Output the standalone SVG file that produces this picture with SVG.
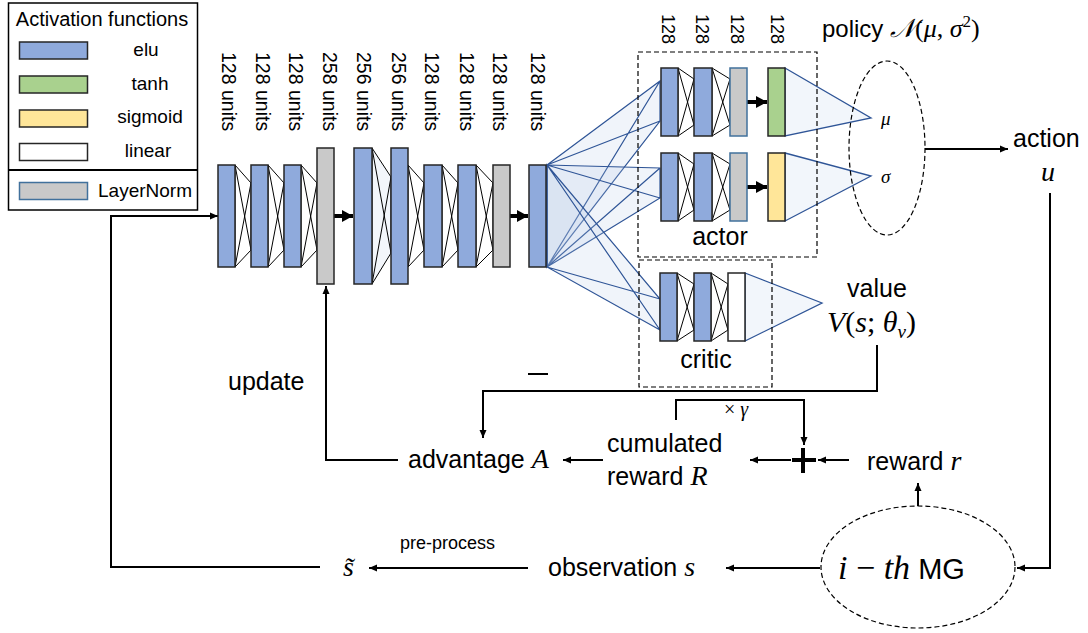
<svg xmlns="http://www.w3.org/2000/svg" width="1088" height="633" viewBox="0 0 1088 633">
  <style>
    .sans { font-family: "Liberation Sans", Arial, sans-serif; fill: #000; }
    .math { font-family: "Liberation Serif", "DejaVu Serif", serif; font-style: italic; fill: #000; }
    .up { font-family: "Liberation Serif", "DejaVu Serif", serif; font-style: normal; }
    .elu { fill: #8FAADC; stroke: #262626; stroke-width: 1.5; }
    .tanh { fill: #A9D18E; stroke: #262626; stroke-width: 1.5; }
    .sig { fill: #FFE699; stroke: #262626; stroke-width: 1.5; }
    .lin { fill: #FFFFFF; stroke: #262626; stroke-width: 1.5; }
    .ln { fill: #C9C9C9; stroke: #262626; stroke-width: 1.5; }
    .lnb { fill: #C9C9C9; stroke: #41719C; stroke-width: 1.5; }
    .xw { fill: #FFFFFF; stroke: #000; stroke-width: 1; }
    .xb { fill: #F3F6FB; stroke: #000; stroke-width: 1; }
    .fan { fill: #B4C7E7; fill-opacity: 0.2; stroke: #2F5597; stroke-width: 1.2; }
    .out { fill: #F2F6FB; stroke: #2F5597; stroke-width: 1.3; }
    .dash { fill: none; stroke: #000; stroke-width: 1.2; stroke-dasharray: 5 3; }
    .wire { fill: none; stroke: #000; stroke-width: 2; }
    .thick { fill: none; stroke: #000; stroke-width: 4; }
  </style>
  <defs>
    <marker id="ah" markerUnits="userSpaceOnUse" markerWidth="9" markerHeight="8" refX="8" refY="4" orient="auto">
      <path d="M0,0.5 L8,4 L0,7.5 z" fill="#000"/>
    </marker>
    <marker id="ahb" markerUnits="userSpaceOnUse" markerWidth="12" markerHeight="12" refX="11" refY="6" orient="auto">
      <path d="M0,0 L11,6 L0,12 z" fill="#000"/>
    </marker>
  </defs>

  <!-- legend -->
  <g id="legend">
    <rect x="8.5" y="3" width="189" height="207" fill="#fff" stroke="#000" stroke-width="1.5"/>
    <line x1="8.5" y1="170" x2="197.5" y2="170" stroke="#000" stroke-width="2"/>
    <text class="sans" x="102" y="26" font-size="20" text-anchor="middle">Activation functions</text>
    <rect class="elu" x="19.5" y="42" width="68" height="17"/>
    <rect class="tanh" x="19.5" y="76" width="68" height="17"/>
    <rect class="sig" x="19.5" y="110" width="68" height="17"/>
    <rect class="lin" x="19.5" y="143.5" width="68" height="17"/>
    <rect class="lnb" x="19.5" y="182.5" width="68" height="17"/>
    <text class="sans" x="146" y="56" font-size="19" text-anchor="middle">elu</text>
    <text class="sans" x="150" y="90" font-size="19" text-anchor="middle">tanh</text>
    <text class="sans" x="150" y="123" font-size="19" text-anchor="middle">sigmoid</text>
    <text class="sans" x="148" y="157" font-size="19" text-anchor="middle">linear</text>
    <text class="sans" x="145" y="197" font-size="19" text-anchor="middle">LayerNorm</text>
  </g>

  <!-- connectors: fully connected wiring, arrows and signal flow -->
  <g id="connectors">
    <!-- dense links inside the shared trunk -->
    <path class="xw" d="M235,165 L251,183 L251,250 L235,267 Z M235,165 L251,250 M235,267 L251,183"/>
    <path class="xw" d="M268,165 L284,183 L284,250 L268,267 Z M268,165 L284,250 M268,267 L284,183"/>
    <path class="xw" d="M301,165 L317,183 L317,250 L301,267 Z M301,165 L317,250 M301,267 L317,183"/>
    <path class="xb" d="M372,148 L391,177 L391,253 L372,284 Z M372,148 L391,253 M372,284 L391,177"/>
    <path class="xw" d="M408,165 L424,183 L424,250 L408,267 Z M408,165 L424,250 M408,267 L424,183"/>
    <path class="xw" d="M442,165 L458,183 L458,250 L442,267 Z M442,165 L458,250 M442,267 L458,183"/>
    <path class="xw" d="M476,165 L493,183 L493,250 L476,267 Z M476,165 L493,250 M476,267 L493,183"/>
    <line class="thick" x1="334" y1="216" x2="353" y2="216" marker-end="url(#ahb)"/>
    <line class="thick" x1="510" y1="216" x2="528" y2="216" marker-end="url(#ahb)"/>

    <!-- trunk output fanned to the heads -->
    <path class="fan" d="M547,165 L660,81 L660,121 L547,267 Z M547,165 L660,121 M547,267 L660,81"/>
    <path class="fan" d="M547,165 L660,168 L660,198 L547,267 Z M547,165 L660,198 M547,267 L660,168"/>
    <path class="fan" d="M547,165 L660,299 L660,330 L547,267 Z M547,165 L660,330 M547,267 L660,299"/>

    <!-- actor head links -->
    <path class="xw" d="M678,68 L694,79 L694,125 L678,136 Z M678,68 L694,125 M678,136 L694,79"/>
    <path class="xw" d="M712,68 L730,79 L730,125 L712,136 Z M712,68 L730,125 M712,136 L730,79"/>
    <path class="xw" d="M678,153 L694,164 L694,210 L678,221 Z M678,153 L694,210 M678,221 L694,164"/>
    <path class="xw" d="M712,153 L730,164 L730,210 L712,221 Z M712,153 L730,210 M712,221 L730,164"/>
    <line class="thick" x1="747" y1="102" x2="767" y2="102" marker-end="url(#ahb)"/>
    <line class="thick" x1="747" y1="187" x2="767" y2="187" marker-end="url(#ahb)"/>
    <path class="out" d="M785,68 L871,118 L785,136 Z"/>
    <path class="out" d="M785,153 L871,176 L785,221 Z"/>

    <!-- critic head links -->
    <path class="xw" d="M677,273 L694,284 L694,330 L677,341 Z M677,273 L694,330 M677,341 L694,284"/>
    <path class="xw" d="M711,273 L728,284 L728,330 L711,341 Z M711,273 L728,330 M711,341 L728,284"/>
    <path class="out" d="M745,273 L822,303 L745,341 Z"/>

    <!-- environment loop -->
    <line class="wire" x1="925" y1="149" x2="1008" y2="149" marker-end="url(#ah)"/>
    <path class="wire" d="M1050,193 V568 H1017" marker-end="url(#ah)"/>
    <line class="wire" x1="820" y1="568" x2="726" y2="568" marker-end="url(#ah)"/>
    <line class="wire" x1="528" y1="568" x2="369" y2="568" marker-end="url(#ah)"/>
    <path class="wire" d="M320,567 H111 V216 H218" marker-end="url(#ah)"/>
    <line class="wire" x1="918" y1="506" x2="918" y2="483" marker-end="url(#ah)"/>
    <line class="wire" x1="849" y1="460" x2="818" y2="460" marker-end="url(#ah)"/>
    <line class="wire" x1="791" y1="460" x2="750" y2="460" marker-end="url(#ah)"/>
    <path class="wire" d="M676,420 V400 H804 V445" marker-end="url(#ah)"/>
    <path class="wire" d="M877,345 V391 H483 V438" marker-end="url(#ah)"/>
    <line class="wire" x1="603" y1="460" x2="563" y2="460" marker-end="url(#ah)"/>
    <path class="wire" d="M398,460 H326 V286" marker-end="url(#ah)"/>
    <!-- summation and subtraction marks -->
    <path d="M792,460 H816 M803,448 V473" stroke="#000" stroke-width="4" fill="none"/>
    <line x1="528" y1="374" x2="548" y2="374" stroke="#000" stroke-width="2"/>
  </g>

  <!-- shared trunk layers -->
  <g id="trunk">
    <rect class="elu" x="218" y="165" width="17" height="102"/>
    <rect class="elu" x="251" y="165" width="17" height="102"/>
    <rect class="elu" x="284" y="165" width="17" height="102"/>
    <rect class="ln" x="317" y="148" width="17" height="136"/>
    <rect class="elu" x="354" y="148" width="18" height="136"/>
    <rect class="elu" x="391" y="148" width="17" height="136"/>
    <rect class="elu" x="424" y="165" width="18" height="102"/>
    <rect class="elu" x="458" y="165" width="18" height="102"/>
    <rect class="ln" x="493" y="165" width="17" height="102"/>
    <rect class="elu" x="529" y="165" width="17" height="102"/>
  </g>
  <g id="trunk-sizes" class="sans" font-size="19.5">
    <text transform="translate(222,52) rotate(90)">128 units</text>
    <text transform="translate(256,52) rotate(90)">128 units</text>
    <text transform="translate(289,52) rotate(90)">128 units</text>
    <text transform="translate(323,52) rotate(90)">258 units</text>
    <text transform="translate(357,52) rotate(90)">256 units</text>
    <text transform="translate(392,52) rotate(90)">256 units</text>
    <text transform="translate(425,52) rotate(90)">128 units</text>
    <text transform="translate(460,52) rotate(90)">128 units</text>
    <text transform="translate(493,52) rotate(90)">128 units</text>
    <text transform="translate(531,52) rotate(90)">128 units</text>
  </g>

  <!-- actor head -->
  <g id="actor">
    <rect class="dash" x="638" y="52" width="179" height="205"/>
    <rect class="elu" x="661" y="68" width="17" height="68"/>
    <rect class="elu" x="694" y="68" width="18" height="68"/>
    <rect class="lnb" x="730" y="68" width="17" height="68"/>
    <rect class="tanh" x="768" y="68" width="17" height="68"/>
    <rect class="elu" x="661" y="153" width="17" height="68"/>
    <rect class="elu" x="694" y="153" width="18" height="68"/>
    <rect class="lnb" x="730" y="153" width="17" height="68"/>
    <rect class="sig" x="768" y="153" width="17" height="68"/>
    <text class="sans" x="720" y="245" font-size="25" text-anchor="middle">actor</text>
    <g class="sans" font-size="18">
      <text transform="translate(662,14) rotate(90)">128</text>
      <text transform="translate(696,14) rotate(90)">128</text>
      <text transform="translate(731,14) rotate(90)">128</text>
      <text transform="translate(771,14) rotate(90)">128</text>
    </g>
  </g>

  <!-- critic head -->
  <g id="critic">
    <rect class="dash" x="639" y="260" width="133" height="127"/>
    <rect class="elu" x="660" y="273" width="17" height="68"/>
    <rect class="elu" x="694" y="273" width="17" height="68"/>
    <rect class="lin" x="728" y="273" width="17" height="68"/>
    <text class="sans" x="706" y="368" font-size="25" text-anchor="middle">critic</text>
  </g>

  <!-- Gaussian policy -->
  <g id="policy">
    <ellipse class="dash" cx="887" cy="148" rx="38" ry="87"/>
    <text class="math" x="881" y="125" font-size="19">μ</text>
    <text class="math" x="881" y="183" font-size="19">σ</text>
    <text x="822" y="37" font-size="24"><tspan class="sans">policy </tspan><tspan class="math" font-size="26">𝒩</tspan><tspan class="math up" font-size="26">(</tspan><tspan class="math" font-size="26">μ</tspan><tspan class="math up" font-size="26">, </tspan><tspan class="math" font-size="26">σ</tspan><tspan class="math up" font-size="17" dy="-10">2</tspan><tspan class="math up" font-size="26" dy="10">)</tspan></text>
  </g>

  <g id="action">
    <text class="sans" x="1013" y="147" font-size="25">action</text>
    <text class="math" x="1041" y="181" font-size="28">u</text>
  </g>

  <g id="value">
    <text class="sans" x="877" y="297" font-size="25" text-anchor="middle">value</text>
    <text class="math" x="827" y="332" font-size="30">V<tspan class="up">(</tspan>s<tspan class="up">;</tspan> θ<tspan font-size="19" dy="6">v</tspan><tspan class="up" dy="-6">)</tspan></text>
  </g>

  <g id="advantage">
    <text x="408" y="468" font-size="25"><tspan class="sans">advantage </tspan><tspan class="math" font-size="28">A</tspan></text>
  </g>

  <g id="cumulated-reward">
    <text class="sans" x="607" y="452" font-size="25">cumulated</text>
    <text x="607" y="485" font-size="25"><tspan class="sans">reward </tspan><tspan class="math" font-size="28">R</tspan></text>
    <text x="724" y="416" font-size="20"><tspan class="math up">×</tspan><tspan class="math"> γ</tspan></text>
  </g>

  <g id="reward">
    <text x="867" y="470" font-size="25"><tspan class="sans">reward </tspan><tspan class="math" font-size="28">r</tspan></text>
  </g>

  <g id="environment">
    <ellipse class="dash" cx="918" cy="567" rx="97" ry="61"/>
    <text x="838" y="579" font-size="34"><tspan class="math">i</tspan><tspan class="math up"> − </tspan><tspan class="math">th</tspan><tspan class="sans" font-size="29"> MG</tspan></text>
  </g>

  <g id="observation">
    <text x="548" y="576" font-size="25"><tspan class="sans">observation </tspan><tspan class="math" font-size="28">s</tspan></text>
    <text class="sans" x="400" y="549" font-size="18">pre-process</text>
  </g>

  <g id="processed-state">
    <text class="math" x="343" y="576" font-size="28">s̃</text>
  </g>

  <text class="sans" x="228" y="390" font-size="25">update</text>
</svg>
